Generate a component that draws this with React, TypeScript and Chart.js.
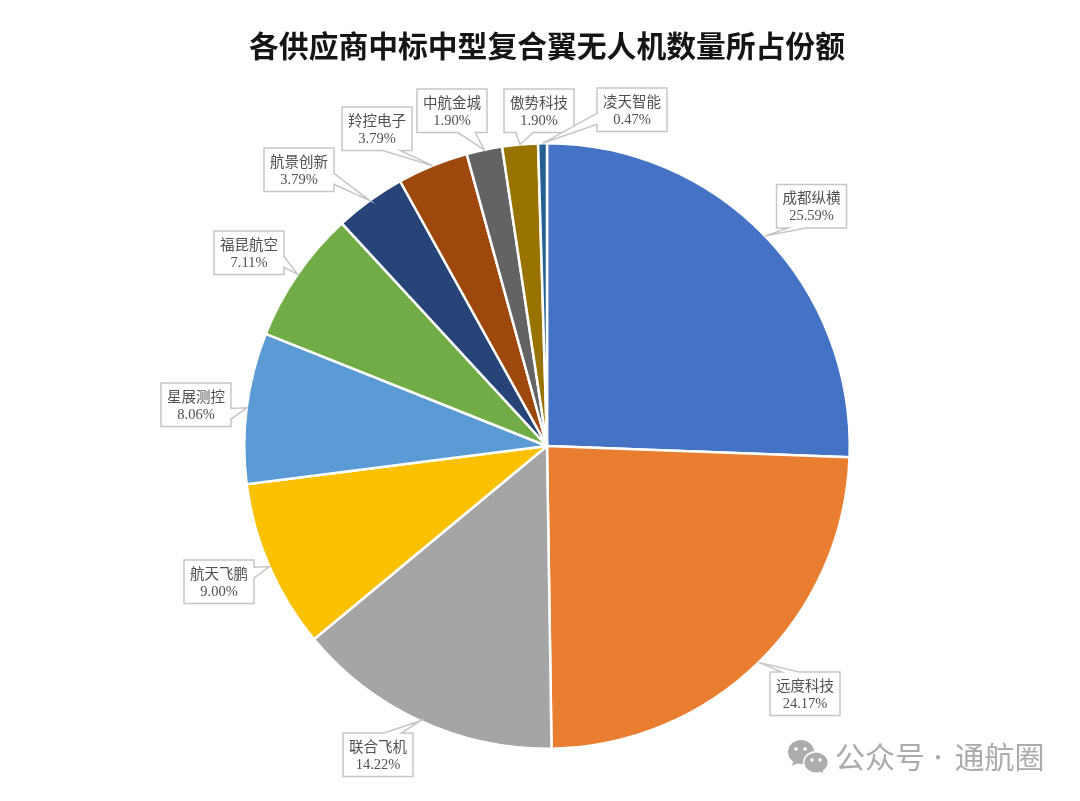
import React, { useEffect, useRef } from "react";
import { Chart, registerables } from "chart.js";

Chart.register(...registerables);

const titleText = "各供应商中标中型复合翼无人机数量所占份额";
const suppliers = ["成都纵横", "远度科技", "联合飞机", "航天飞鹏", "星展测控", "福昆航空", "航景创新", "羚控电子", "中航金城", "傲势科技", "凌天智能"];
const shares = [25.59, 24.17, 14.22, 9.0, 8.06, 7.11, 3.79, 3.79, 1.9, 1.9, 0.47];
const sliceColors = ["#4472C4", "#E97D30", "#A5A5A5", "#FBC000", "#5B9BD5", "#70AD47", "#264478", "#9E480E", "#636363", "#997300", "#255E91"];
// callout box placement (left, top) for each supplier's label
const calloutLeft = [776.5, 770, 343, 184, 161, 214, 264, 342, 417, 504, 597];
const calloutTop = [184.5, 672, 733, 560, 383, 231, 148, 107, 89, 89, 88];
const CALLOUT_W = 70;
const CALLOUT_H = 43.5;
const FONT_CJK = '"Noto Sans CJK SC"';

const calloutPlugin = {
  id: "callouts",
  afterDatasetsDraw(chart: any) {
    const { ctx } = chart;
    const arcs = chart.getDatasetMeta(0).data;
    ctx.save();
    arcs.forEach((arc: any, i: number) => {
      const { startAngle, endAngle, outerRadius, x, y } = arc.getProps(["startAngle", "endAngle", "outerRadius", "x", "y"], true);
      const mid = (startAngle + endAngle) / 2;
      const tx = x + Math.cos(mid) * outerRadius;
      const ty = y + Math.sin(mid) * outerRadius;
      const l = calloutLeft[i];
      const t = calloutTop[i];
      const w = CALLOUT_W;
      const h = CALLOUT_H;
      const dx = tx - (l + w / 2);
      const dy = ty - (t + h / 2);
      const vertical = Math.abs(dy) - Math.abs((dx * h) / w) > 0;
      const a = 2 / 12, b = 5 / 12, c = 7 / 12, d = 10 / 12;
      const pts: [number, number][] = [[l, t]];
      if (vertical && dy < 0) {
        const p = dx > 0 ? [c, d] : [a, b];
        pts.push([l + w * p[0], t], [tx, ty], [l + w * p[1], t]);
      }
      pts.push([l + w, t]);
      if (!vertical && dx > 0) {
        const p = dy > 0 ? [c, d] : [a, b];
        pts.push([l + w, t + h * p[0]], [tx, ty], [l + w, t + h * p[1]]);
      }
      pts.push([l + w, t + h]);
      if (vertical && dy > 0) {
        const p = dx > 0 ? [c, d] : [a, b];
        pts.push([l + w * p[1], t + h], [tx, ty], [l + w * p[0], t + h]);
      }
      pts.push([l, t + h]);
      if (!vertical && dx < 0) {
        const p = dy > 0 ? [c, d] : [a, b];
        pts.push([l, t + h * p[1]], [tx, ty], [l, t + h * p[0]]);
      }
      ctx.beginPath();
      pts.forEach((pt, k) => (k ? ctx.lineTo(pt[0], pt[1]) : ctx.moveTo(pt[0], pt[1])));
      ctx.closePath();
      ctx.fillStyle = "#FFFFFF";
      ctx.fill();
      ctx.strokeStyle = "#C6C6C6";
      ctx.lineWidth = 1.5;
      ctx.stroke();

      ctx.fillStyle = "#505050";
      ctx.textAlign = "center";
      ctx.textBaseline = "middle";
      ctx.font = `14.5px ${FONT_CJK}`;
      ctx.fillText(suppliers[i], l + w / 2, t + 13);
      ctx.font = `14.5px "Liberation Serif"`;
      ctx.fillText(shares[i].toFixed(2) + "%", l + w / 2, t + 32);
    });
    ctx.restore();
  },
};

const watermarkPlugin = {
  id: "watermark",
  afterDraw(chart: any) {
    const { ctx } = chart;
    const grey = "#ADADAD";
    ctx.save();
    // chat-bubble icon
    ctx.fillStyle = grey;
    ctx.beginPath();
    ctx.ellipse(801, 752, 13, 12, 0, 0, Math.PI * 2);
    ctx.fill();
    ctx.beginPath();
    ctx.moveTo(794, 760);
    ctx.lineTo(792, 766);
    ctx.lineTo(800, 762);
    ctx.closePath();
    ctx.fill();
    ctx.fillStyle = "#FFFFFF";
    ctx.beginPath();
    ctx.ellipse(816, 762.5, 13, 11.5, 0, 0, Math.PI * 2);
    ctx.fill();
    ctx.fillStyle = grey;
    ctx.beginPath();
    ctx.ellipse(816, 762.5, 11.5, 10, 0, 0, Math.PI * 2);
    ctx.fill();
    ctx.beginPath();
    ctx.moveTo(819, 771);
    ctx.lineTo(823, 773);
    ctx.lineTo(823, 768);
    ctx.closePath();
    ctx.fill();
    ctx.fillStyle = "#FFFFFF";
    [[796, 749], [805, 749], [812, 760], [820, 760]].forEach(([ex, ey]) => {
      ctx.beginPath();
      ctx.arc(ex, ey, 1.7, 0, Math.PI * 2);
      ctx.fill();
    });
    // account name
    ctx.fillStyle = "#ABABAB";
    ctx.textBaseline = "middle";
    ctx.textAlign = "left";
    ctx.font = `30px ${FONT_CJK}`;
    ctx.fillText("公众号", 835, 757);
    ctx.fillText("通航圈", 954.5, 757);
    ctx.textAlign = "center";
    ctx.font = `20px ${FONT_CJK}`;
    ctx.fillText("·", 938, 757);
    ctx.restore();
  },
};

export default function App() {
  const ref = useRef<HTMLCanvasElement>(null);
  useEffect(() => {
    const chart = new Chart(ref.current!, {
      type: "pie",
      data: {
        labels: suppliers,
        datasets: [
          {
            data: shares,
            backgroundColor: sliceColors,
            borderColor: "#FFFFFF",
            borderWidth: 2.5,
          },
        ],
      },
      options: {
        responsive: false,
        animation: false,
        layout: { padding: { left: 14, right: 0, top: 0, bottom: 51 } },
        plugins: {
          legend: { display: false },
          tooltip: { enabled: false },
          title: {
            display: true,
            text: titleText,
            color: "#151515",
            font: { family: FONT_CJK, size: 29.8, weight: "bold", lineHeight: 1.2 },
            padding: { top: 28, bottom: 78.24 },
          },
        },
      },
      plugins: [calloutPlugin, watermarkPlugin],
    } as any);
    return () => chart.destroy();
  }, []);
  return (
    <div style={{ position: "absolute", left: 0, top: 0, width: 1080, height: 801, background: "#FFFFFF" }}>
      <canvas ref={ref} width={1080} height={801} style={{ display: "block" }} />
    </div>
  );
}
